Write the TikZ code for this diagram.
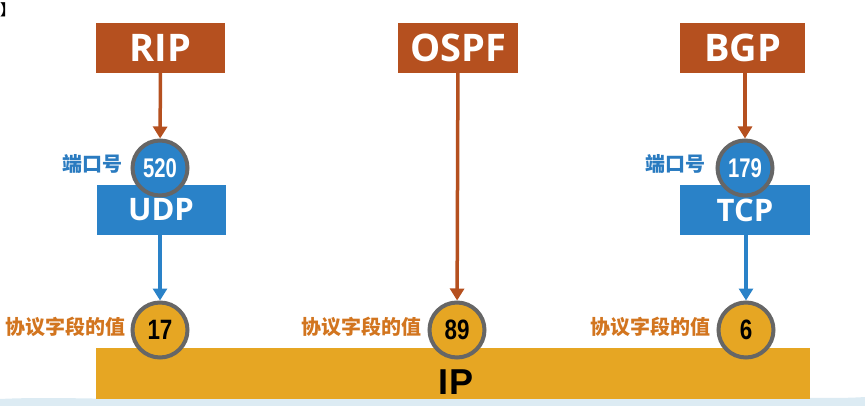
\documentclass[tikz,border=0pt]{standalone}
\usepackage{fontspec}
\setmainfont{Open Sans}
\newfontfamily\arialf{Liberation Sans}
\newfontfamily\cjk{Noto Sans CJK SC}
\usetikzlibrary{arrows.meta}
\definecolor{rust}{HTML}{B5501F}
\definecolor{bblue}{HTML}{2A82C8}
\definecolor{gold}{HTML}{E6A623}
\definecolor{ringgray}{HTML}{666666}
\definecolor{lblorange}{HTML}{D2751F}
\definecolor{lblblue}{HTML}{2A7BC0}
\definecolor{wave}{HTML}{DCEBF3}
\begin{document}
\begin{tikzpicture}[x=1pt,y=-1pt,
  topbox/.style={fill=rust, text=white, minimum width=129pt, minimum height=50pt, inner sep=0pt, font=\bfseries\fontsize{38}{38}\selectfont},
  midbox/.style={fill=bblue, text=white, minimum width=129pt, minimum height=50pt, inner sep=0pt, font=\bfseries\fontsize{31}{31}\selectfont},
  bluering/.style={circle, fill=bblue, draw=ringgray, line width=4pt, minimum size=55pt, inner sep=0pt, text=white, font=\arialf\bfseries\fontsize{27}{27}\selectfont},
  goldring/.style={circle, fill=gold, draw=ringgray, line width=4pt, minimum size=55pt, inner sep=0pt, text=black, font=\arialf\bfseries\fontsize{28}{28}\selectfont},
  portlbl/.style={anchor=east, text=lblblue, inner sep=0pt, font=\cjk\bfseries\fontsize{20}{20}\selectfont},
  fieldlbl/.style={anchor=east, text=lblorange, inner sep=0pt, font=\cjk\bfseries\fontsize{20}{20}\selectfont},
  rustarrow/.style={draw=rust, line width=3.5pt, -{Triangle[width=14pt,length=12pt]}},
  bluearrow/.style={draw=bblue, line width=3.5pt, -{Triangle[width=14pt,length=12pt]}}
]
\useasboundingbox (0,0) rectangle (865,406);
% background wave band
\fill[wave] (0,406) -- (0,399) .. controls (60,396) and (120,401) .. (200,398) .. controls (300,395) and (500,401) .. (650,397) .. controls (750,395) and (820,400) .. (865,397) -- (865,406) -- cycle;
\node[anchor=north west, inner sep=0pt, font=\cjk\bfseries\fontsize{15}{15}\selectfont] (br) at (0,2) {】};
% IP bar
\node[fill=gold, minimum width=714pt, minimum height=51pt, inner sep=0pt, anchor=north west] (ip) at (96,348) {};
\node[font=\arialf\bfseries\fontsize{36}{36}\selectfont, text=black, inner sep=0pt] (iptxt) at (456,382) {IP};
% top boxes
\node[topbox] (rip) at (160.5,48) {RIP};
\node[topbox, minimum width=120pt] (ospf) at (458,48) {OSPF};
\node[topbox, minimum width=125pt] (bgp) at (742.5,48) {BGP};
% middle boxes
\node[midbox] (udp) at (161,210) {UDP};
\node[midbox, minimum width=130pt] (tcp) at (745,210) {TCP};
% rings
\node[bluering] (c520) at (160,168) {\scalebox{0.75}[1]{520}};
\node[bluering] (c179) at (745,168) {\scalebox{0.75}[1]{179}};
\node[goldring] (c17) at (160,330) {\scalebox{0.8}[1]{17}};
\node[goldring] (c89) at (457,330) {\scalebox{0.8}[1]{89}};
\node[goldring] (c6) at (746,330) {\scalebox{0.8}[1]{6}};
% labels
\node[portlbl] (p1) at (123,164) {端口号};
\node[portlbl] (p2) at (706,164) {端口号};
\node[fieldlbl] (f1) at (126,327) {协议字段的值};
\node[fieldlbl] (f2) at (422,327) {协议字段的值};
\node[fieldlbl] (f3) at (711,327) {协议字段的值};
% arrows
\draw[rustarrow] (rip) -- (c520);
\draw[rustarrow] (ospf) -- (c89);
\draw[rustarrow] (bgp.south -| c179) -- (c179);
\draw[bluearrow] (udp.south -| c17) -- (c17);
\draw[bluearrow] (tcp.south -| c6) -- (c6);
\end{tikzpicture}
\end{document}
